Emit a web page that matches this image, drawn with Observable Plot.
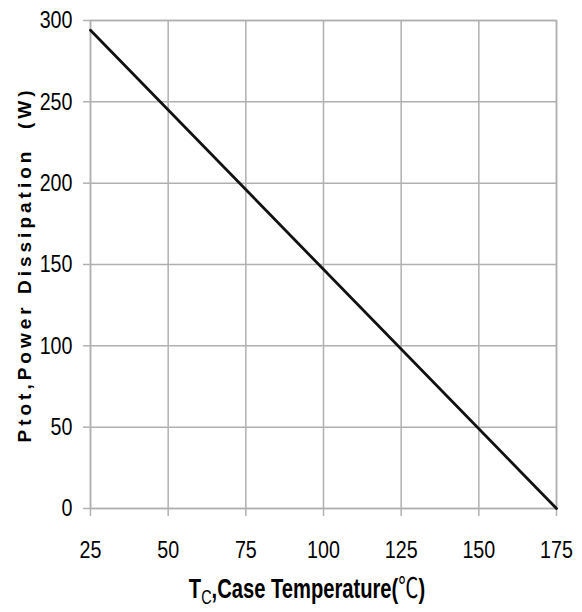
<!DOCTYPE html>
<html>
<head>
<meta charset="utf-8">
<script src="https://cdn.jsdelivr.net/npm/d3@7"></script>
<script src="https://cdn.jsdelivr.net/npm/@observablehq/plot@0.6"></script>
<style>
  html, body { margin: 0; padding: 0; background: #fff; }
  #chart { width: 582px; }
  #xlabel {
    width: 582px; height: 40px; position: relative;
    font-family: "Liberation Sans", Arial, sans-serif;
    font-weight: bold; font-size: 28px; color: #000;
  }
  #xlabel span.t { position: absolute; left: 307px; top: 0px; transform: translateX(-50%) scaleX(0.72); white-space: nowrap; line-height: 1; }
  #xlabel sub { font-weight: normal; font-size: 20px; vertical-align: -6px; }
  #xlabel .deg { font-family: "Noto Sans CJK SC", "DejaVu Sans", sans-serif; font-weight: normal; }
</style>
</head>
<body>
<div id="chart"></div>
<div id="xlabel"><span class="t">T<sub>C</sub>,Case Temperature(<span class="deg">℃</span>)</span></div>
<script>
const temperature = [25, 175];
const power = [294, 0];
const xTicks = [25, 50, 75, 100, 125, 150, 175];
const yTicks = [0, 50, 100, 150, 200, 250, 300];
const yLabel = "Ptot,Power Dissipation\u00a0\u00a0(W)";

const data = temperature.map((t, i) => ({t, p: power[i]}));
const gridColor = "#b0b0b0";
const tickFont = "'Liberation Sans', Arial, sans-serif";

const chart = Plot.plot({
  width: 582,
  height: 572,
  marginTop: 20,
  marginLeft: 90,
  marginRight: 26,
  marginBottom: 64,
  x: {domain: [25, 175]},
  y: {domain: [0, 300]},
  marks: [
    Plot.gridX(xTicks, {stroke: gridColor, strokeOpacity: 1, strokeWidth: 1.5}),
    Plot.gridY(yTicks, {stroke: gridColor, strokeOpacity: 1, strokeWidth: 1.5}),
    Plot.frame({stroke: gridColor, strokeWidth: 1.5}),
    Plot.axisX(xTicks, {tickSize: 8, tickPadding: 24, stroke: gridColor, strokeWidth: 1.5, fill: "#000",
      fontSize: 24, fontFamily: tickFont, label: null}),
    Plot.axisY(yTicks, {tickSize: 7, tickPadding: 11, stroke: gridColor, strokeWidth: 1.5, fill: "#000",
      fontSize: 24, fontFamily: tickFont, label: null}),
    Plot.line(data, {x: "t", y: "p", stroke: "#111", strokeWidth: 2.8}),
    Plot.text([yLabel], {frameAnchor: "left", textAnchor: "middle", rotate: -90, dx: -66, fontSize: 19, fontWeight: "bold",
      fontFamily: "'Liberation Sans', Arial, sans-serif", fill: "#000"})
  ]
});
// condense tick labels horizontally (narrow font look)
chart.querySelectorAll('g[aria-label="x-axis tick label"] text, g[aria-label="y-axis tick label"] text').forEach(t => {
  const tr = t.getAttribute("transform");
  if (tr) {
    t.setAttribute("transform", tr + " scale(0.82,1)");
  } else {
    const x = +t.getAttribute("x") || 0, y = +t.getAttribute("y") || 0;
    t.setAttribute("x", 0); t.setAttribute("y", 0);
    t.setAttribute("transform", `translate(${x},${y}) scale(0.82,1)`);
  }
});
chart.querySelectorAll("text").forEach(t => {
  if (t.textContent === yLabel) t.setAttribute("letter-spacing", "4.0");
});
document.getElementById("chart").appendChild(chart);
</script>
</body>
</html>
